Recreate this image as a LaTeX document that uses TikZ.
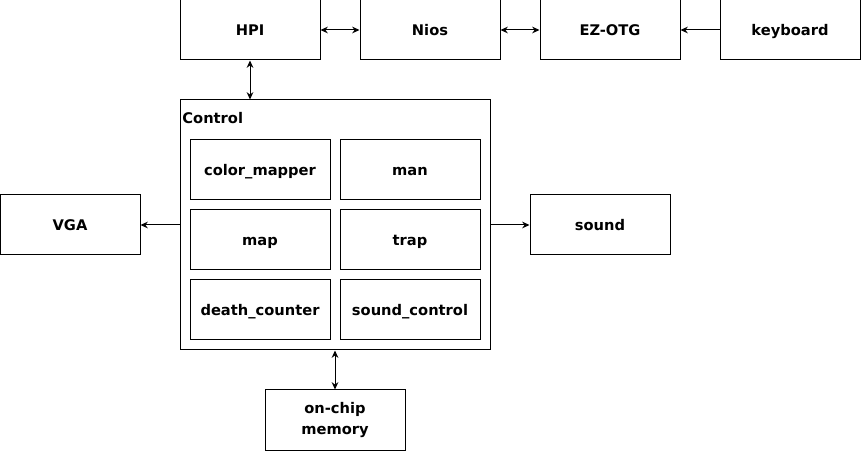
\documentclass[tikz,border=0pt]{standalone}
\usepackage{fontspec}
\setmainfont{DejaVu Sans}
\usetikzlibrary{arrows.meta}

\tikzset{
  block/.style={draw, line width=0.75pt, minimum width=105pt, minimum height=45pt,
    inner sep=1pt, align=center, text height=10pt, text depth=1pt,
    font=\fontsize{11}{16}\selectfont\bfseries},
  link/.style={line width=0.75pt, {Stealth[length=5.5pt,width=5pt]}-{Stealth[length=5.5pt,width=5pt]}},
  feed/.style={line width=0.75pt, -{Stealth[length=5.5pt,width=5pt]}}
}

\begin{document}
\begin{tikzpicture}[x=0.75pt,y=-0.75pt]
  \useasboundingbox (0,0) rectangle (861,452);
  % top row
  \node[block] (hpi) at (250,30) {HPI};
  \node[block] (nios) at (430,30) {Nios};
  \node[block] (otg) at (610,30) {EZ-OTG};
  \node[block] (kbd) at (790,30) {keyboard};
  % control block with its modules
  \node[draw, line width=0.75pt, minimum width=232.5pt, minimum height=187.5pt] (ctrl) at (335,225) {};
  \node[anchor=north west, inner sep=0pt, font=\fontsize{11}{13}\selectfont\bfseries] (ctrllabel) at ([xshift=2pt,yshift=-9.5pt]ctrl.north west) {Control};
  \node[block] (cmap) at (260,170) {color\_mapper};
  \node[block] (man) at (410,170) {man};
  \node[block] (map) at (260,240) {map};
  \node[block] (trap) at (410,240) {trap};
  \node[block] (death) at (260,310) {death\_counter};
  \node[block] (sndctl) at (410,310) {sound\_control};
  % outputs and memory
  \node[block, text height=, text depth=] (mem) at (335,420) {on-chip\\memory};
  \node[block] (vga) at (70,225) {VGA};
  \node[block] (snd) at (600,225) {sound};

  \draw[link] (hpi) -- (nios);
  \draw[link] (nios) -- (otg);
  \draw[feed] (kbd) -- (otg);
  \draw[link] (hpi.south) -- (hpi.south |- ctrl.north);
  \draw[feed] (ctrl.west) -- (vga.east);
  \draw[feed] (ctrl.east) -- (snd.west);
  \draw[link] (ctrl.south) -- (mem.north);
\end{tikzpicture}
\end{document}
